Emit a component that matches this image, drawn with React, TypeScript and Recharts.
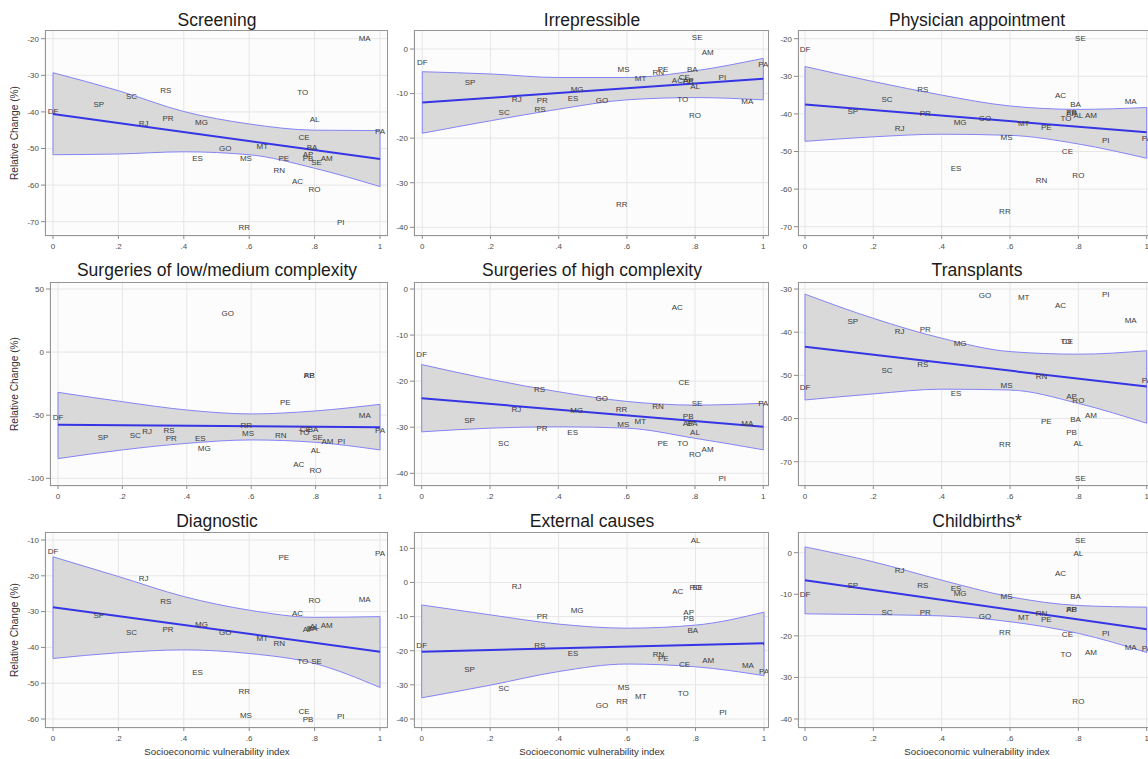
import React from "react";
import {
  ComposedChart,
  Area,
  Line,
  Scatter,
  XAxis,
  YAxis,
  CartesianGrid,
} from "recharts";

const FONT = "'Liberation Sans', Arial, sans-serif";

const xTicks = [0, 0.2, 0.4, 0.6, 0.8, 1];
const xTickLabels = ["0", ".2", ".4", ".6", ".8", "1"];
const bandX = [0, 0.2, 0.4, 0.6, 0.8, 1];
const fitX = [0, 1];

const states = [
  "AC", "AL", "AM", "AP", "BA", "CE", "DF", "ES", "GO", "MA", "MG", "MS", "MT", "PA",
  "PB", "PE", "PI", "PR", "RJ", "RN", "RO", "RR", "RS", "SC", "SE", "SP", "TO",
];
// socioeconomic vulnerability index per state
const vulnerabilityIndex = [
  0.748, 0.8, 0.837, 0.78, 0.792, 0.768, 0, 0.442, 0.527, 0.953, 0.454, 0.59, 0.64, 1.0,
  0.78, 0.706, 0.88, 0.352, 0.277, 0.692, 0.8, 0.585, 0.345, 0.24, 0.806, 0.14, 0.764,
];

// relative change (%) per state, same order as `states`
const screening = [
  -59.1, -42.0, -52.8, -51.6, -49.8, -47.0, -39.8, -52.8, -50.1, -20.0, -43.0, -52.8, -49.5, -45.4,
  -52.6, -52.6, -70.2, -41.7, -43.3, -55.9, -61.1, -71.5, -34.1, -35.8, -53.8, -37.9, -34.8,
];
const screeningFit = [-40.6, -52.9];
const screeningUpper = [-29.3, -34.2, -39.9, -43.3, -45.0, -45.1];
const screeningLower = [-51.7, -51.5, -50.9, -51.7, -55.4, -60.4];

const irrepressible = [
  -7.0, -8.5, -0.7, -7.0, -4.7, -6.5, -3.1, -11.1, -11.6, -11.8, -9.0, -4.6, -6.7, -3.4,
  -7.2, -4.6, -6.3, -11.5, -11.3, -5.2, -15.0, -34.8, -13.6, -14.2, 2.5, -7.5, -11.4,
];
const irrepressibleFit = [-12.0, -6.7];
const irrepressibleUpper = [-5.1, -5.6, -6.4, -6.4, -4.9, -2.1];
const irrepressibleLower = [-18.9, -16.1, -13.5, -11.4, -10.9, -11.4];

const physician = [
  -35.0, -40.5, -40.5, -40.0, -37.4, -49.9, -23.0, -54.6, -41.1, -36.8, -42.3, -46.2, -42.5, -46.5,
  -39.6, -43.6, -47.1, -39.8, -43.9, -57.6, -56.4, -65.9, -33.5, -36.2, -20.0, -39.4, -41.2,
];
const physicianFit = [-37.5, -44.9];
const physicianUpper = [-27.4, -31.4, -35.0, -37.9, -38.8, -38.3];
const physicianLower = [-47.3, -46.1, -45.4, -45.7, -48.0, -51.8];

const lowMedium = [
  -88.9, -77.8, -70.7, -18.4, -61.7, -61.7, -51.9, -68.8, 30.7, -50.3, -76.0, -64.6, null, -62.5,
  -18.4, -39.8, -70.7, -68.6, -63.0, -66.2, -94.2, -58.3, -62.2, -66.2, -67.8, -68.0, -63.5,
];
const lowMediumFit = [-57.5, -59.6];
const lowMediumUpper = [-31.9, -39.3, -45.9, -49.0, -46.6, -41.4];
const lowMediumLower = [-84.4, -77.5, -72.3, -69.6, -71.5, -77.5];

const highComplexity = [
  -4.1, -31.2, -34.9, -29.2, -29.1, -20.3, -14.2, -31.2, -23.7, -29.2, -26.3, -29.4, -28.8, -24.9,
  -27.7, -33.5, -41.1, -30.2, -26.2, -25.5, -36.0, -26.1, -21.8, -33.5, -24.8, -28.6, -33.5,
];
const highComplexityFit = [-23.7, -29.9];
const highComplexityUpper = [-16.4, -19.6, -22.3, -24.4, -25.2, -24.8];
const highComplexityLower = [-31.0, -30.2, -29.9, -30.2, -32.4, -34.9];

const transplants = [
  -33.9, -65.8, -59.3, -54.9, -60.3, -42.1, -52.9, -54.2, -31.4, -37.3, -42.7, -52.3, -32.0, -51.2,
  -63.2, -60.7, -31.2, -39.3, -39.8, -50.2, -55.9, -66.1, -47.4, -48.8, -73.9, -37.5, -42.1,
];
const transplantsFit = [-43.4, -52.6];
const transplantsUpper = [-31.2, -36.8, -41.4, -44.5, -45.1, -44.3];
const transplantsLower = [-55.7, -54.3, -53.2, -53.4, -56.5, -61.1];

const diagnostic = [
  -30.5, -34.2, -33.9, -35.0, -34.8, -57.8, -13.3, -47.1, -35.9, -26.5, -33.6, -59.1, -37.5, -13.7,
  -60.0, -15.0, -59.4, -35.0, -20.8, -38.9, -26.9, -52.4, -27.2, -35.9, -43.8, -31.0, -43.8,
];
const diagnosticFit = [-28.8, -41.2];
const diagnosticUpper = [-14.7, -20.2, -25.8, -29.6, -31.6, -31.4];
const diagnosticLower = [-43.1, -41.5, -40.7, -41.7, -44.5, -51.2];

const externalCauses = [
  -2.6, 12.2, -22.8, -8.75, -14.1, -24.0, -18.4, -20.7, -36.0, -24.4, -8.3, -30.8, -33.5, -26.1,
  -10.7, -22.3, -38.0, -10.0, -1.2, -21.0, -1.6, -34.9, -18.4, -31.2, -1.6, -25.4, -32.6,
];
const externalCausesFit = [-20.3, -17.8];
const externalCausesUpper = [-6.6, -9.5, -12.2, -13.4, -12.5, -8.7];
const externalCausesLower = [-33.8, -30.1, -26.1, -23.9, -24.7, -27.3];

const childbirths = [
  -5.1, -0.2, -24.0, -13.6, -10.6, -19.6, -10.0, -8.7, -15.4, -22.9, -9.9, -10.6, -15.6, -23.1,
  -13.6, -16.0, -19.4, -14.4, -4.2, -14.6, -35.8, -19.2, -7.9, -14.4, 2.9, -7.9, -24.4,
];
const childbirthsFit = [-6.6, -18.4];
const childbirthsUpper = [1.4, -2.2, -6.6, -10.6, -12.7, -13.1];
const childbirthsLower = [-14.7, -14.9, -15.2, -16.6, -19.4, -24.0];

const titles = [
  "Screening", "Irrepressible", "Physician appointment",
  "Surgeries of low/medium complexity", "Surgeries of high complexity", "Transplants",
  "Diagnostic", "External causes", "Childbirths*",
];

const yTickSets = [
  [-70, -60, -50, -40, -30, -20],
  [-40, -30, -20, -10, 0],
  [-70, -60, -50, -40, -30, -20],
  [-100, -50, 0, 50],
  [-40, -30, -20, -10, 0],
  [-70, -60, -50, -40, -30],
  [-60, -50, -40, -30, -20, -10],
  [-40, -30, -20, -10, 0, 10],
  [-40, -30, -20, -10, 0],
];

const series = [
  [screening, screeningFit, screeningUpper, screeningLower],
  [irrepressible, irrepressibleFit, irrepressibleUpper, irrepressibleLower],
  [physician, physicianFit, physicianUpper, physicianLower],
  [lowMedium, lowMediumFit, lowMediumUpper, lowMediumLower],
  [highComplexity, highComplexityFit, highComplexityUpper, highComplexityLower],
  [transplants, transplantsFit, transplantsUpper, transplantsLower],
  [diagnostic, diagnosticFit, diagnosticUpper, diagnosticLower],
  [externalCauses, externalCausesFit, externalCausesUpper, externalCausesLower],
  [childbirths, childbirthsFit, childbirthsUpper, childbirthsLower],
];

// page layout (pixels): plot boxes and where the outer ticks sit
const rowBox = [
  { top: 30, bottom: 236, titleY: 20 },
  { top: 282, bottom: 486, titleY: 270 },
  { top: 532, bottom: 728, titleY: 521 },
];
const colBox = [
  { left: 45, right: 388, center: 217 },
  { left: 414, right: 769, center: 592 },
  { left: 798, right: 1156, center: 977 },
];
const panelLayout = [
  { left: 45, x0: 53, x1: 380, yHi: 38.7, yLo: 221.7 },
  { left: 414, x0: 422.3, x1: 763.3, yHi: 49, yLo: 227.3 },
  { left: 798, x0: 805, x1: 1146.7, yHi: 38.7, yLo: 226.7 },
  { left: 50, x0: 58, x1: 380, yHi: 289, yLo: 478.3 },
  { left: 414, x0: 421.7, x1: 763.3, yHi: 289, yLo: 473.3 },
  { left: 798, x0: 805, x1: 1146.7, yHi: 289, yLo: 461.7 },
  { left: 45, x0: 53, x1: 380, yHi: 540, yLo: 719 },
  { left: 414, x0: 421.7, x1: 764, yHi: 548.3, yLo: 719 },
  { left: 798, x0: 805, x1: 1146.7, yHi: 552.7, yLo: 719 },
];

const Y_AXIS_W = 30;
const X_AXIS_H = 20;

const renderStateLabel = (props: any) => {
  const { cx, cy, payload } = props;
  if (cx == null || cy == null) return <g />;
  return (
    <text
      x={cx}
      y={cy}
      textAnchor="middle"
      dominantBaseline="central"
      fontSize={8}
      fontFamily={FONT}
      fill="#3c3c3c"
    >
      {payload.state}
    </text>
  );
};

function Panel({ index }: { index: number }) {
  const row = Math.floor(index / 3);
  const col = index % 3;
  const lay = panelLayout[index];
  const r = rowBox[row];
  const c = colBox[col];
  const [values, fit, upper, lower] = series[index];
  const yTicks = yTickSets[index];

  const points = states
    .map((s, i) => ({ x: vulnerabilityIndex[i], y: values[i], state: s }))
    .filter((p) => p.y !== null);
  const band = bandX.map((x, i) => ({ x, band: [lower[i], upper[i]] }));
  const fitLine = fitX.map((x, i) => ({ x, y: fit[i] }));
  const last = bandX.length - 1;
  const leftEdge = [
    { x: bandX[0], y: lower[0] },
    { x: bandX[0], y: upper[0] },
  ];
  const rightEdge = [
    { x: bandX[last], y: lower[last] },
    { x: bandX[last], y: upper[last] },
  ];

  const boxW = c.right - lay.left;
  const boxH = r.bottom - r.top;

  // stretch the axis domains out to the box edges so that nothing is clipped
  const xSpan = lay.x1 - lay.x0;
  const xDomain = [-(lay.x0 - lay.left) / xSpan, 1 + (c.right - lay.x1) / xSpan];
  const tMin = yTicks[0];
  const tMax = yTicks[yTicks.length - 1];
  const yPer = (lay.yLo - lay.yHi) / (tMax - tMin);
  const yDomain = [tMin - (r.bottom - lay.yLo) / yPer, tMax + (lay.yHi - r.top) / yPer];

  return (
    <>
      <div
        style={{
          position: "absolute",
          left: c.center - 200,
          width: 400,
          top: r.titleY - 11,
          textAlign: "center",
          fontFamily: FONT,
          fontSize: 17.5,
          lineHeight: "22px",
          color: "#1b1b1b",
          whiteSpace: "nowrap",
        }}
      >
        {titles[index]}
      </div>
      <div style={{ position: "absolute", left: lay.left - Y_AXIS_W, top: r.top }}>
        <ComposedChart
          width={boxW + Y_AXIS_W}
          height={boxH + X_AXIS_H}
          margin={{ top: 0, right: 0, bottom: 0, left: 0 }}
        >
          <CartesianGrid stroke="#e6e6e6" fill="#fcfcfc" />
          <XAxis
            type="number"
            dataKey="x"
            domain={xDomain}
            ticks={xTicks}
            tickFormatter={(v: number) => xTickLabels[xTicks.indexOf(v)] ?? String(v)}
            height={X_AXIS_H}
            axisLine={false}
            tickLine={{ stroke: "#8a8a8a" }}
            tickSize={3}
            tickMargin={4}
            tick={{ fontSize: 8, fill: "#4d4d4d", fontFamily: FONT }}
          />
          <YAxis
            type="number"
            dataKey="y"
            domain={yDomain}
            ticks={yTicks}
            width={Y_AXIS_W}
            axisLine={false}
            tickLine={{ stroke: "#8a8a8a" }}
            tickSize={4}
            tickMargin={2}
            tick={{ fontSize: 8, fill: "#4d4d4d", fontFamily: FONT }}
          />
          <Area
            data={band}
            dataKey="band"
            type="monotone"
            stroke="#8484f6"
            strokeWidth={1}
            fill="#d9d9d9"
            fillOpacity={1}
            dot={false}
            activeDot={false}
            isAnimationActive={false}
          />
          <Line
            data={leftEdge}
            dataKey="y"
            type="linear"
            stroke="#8484f6"
            strokeWidth={1}
            dot={false}
            activeDot={false}
            isAnimationActive={false}
          />
          <Line
            data={rightEdge}
            dataKey="y"
            type="linear"
            stroke="#8484f6"
            strokeWidth={1}
            dot={false}
            activeDot={false}
            isAnimationActive={false}
          />
          <Line
            data={fitLine}
            dataKey="y"
            type="linear"
            stroke="#3535e6"
            strokeWidth={2}
            dot={false}
            activeDot={false}
            isAnimationActive={false}
          />
          <Scatter data={points} shape={renderStateLabel} isAnimationActive={false} />
        </ComposedChart>
      </div>
      <div
        style={{
          position: "absolute",
          left: lay.left,
          top: r.top,
          width: boxW,
          height: boxH,
          border: "1px solid #959595",
          boxSizing: "border-box",
          pointerEvents: "none",
        }}
      />
    </>
  );
}

export default function App() {
  return (
    <div
      style={{
        position: "absolute",
        left: 0,
        top: 0,
        width: 1148,
        height: 759,
        overflow: "hidden",
        background: "#ffffff",
      }}
    >
      {titles.map((_, i) => (
        <Panel key={i} index={i} />
      ))}
      {rowBox.map((r, i) => (
        <div
          key={"yt" + i}
          style={{
            position: "absolute",
            left: 15 - 60,
            top: (r.top + r.bottom) / 2 - 7,
            width: 120,
            height: 14,
            lineHeight: "14px",
            textAlign: "center",
            transform: "rotate(-90deg)",
            fontFamily: FONT,
            fontSize: 10.2,
            color: "#3a2f2f",
            whiteSpace: "nowrap",
          }}
        >
          Relative Change (%)
        </div>
      ))}
      {colBox.map((c, i) => (
        <div
          key={"xt" + i}
          style={{
            position: "absolute",
            left: c.center - 120,
            width: 240,
            top: 745,
            lineHeight: "14px",
            textAlign: "center",
            fontFamily: FONT,
            fontSize: 9.7,
            color: "#333333",
            whiteSpace: "nowrap",
          }}
        >
          Socioeconomic vulnerability index
        </div>
      ))}
    </div>
  );
}
